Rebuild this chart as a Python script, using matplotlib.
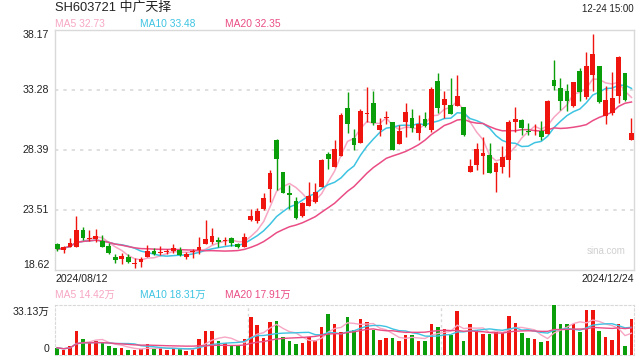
import matplotlib
matplotlib.use('Agg')
import matplotlib.pyplot as plt
import numpy as np
import pandas as pd

plt.rcParams['font.family'] = ['Liberation Sans', 'Noto Sans CJK SC', 'DejaVu Sans']

# daily k-line, 2024/08/12 - 2024/12/24
opens = [20.74, 20.27, 20.52, 20.52, 21.88, 21.12, 21.15, 21.01, 20.58, 19.70,
         19.54, 19.68, 19.13, 19.30, 19.65, 20.19, 20.03, 20.09, 20.14, 20.25,
         19.70, 20.06, 20.22, 20.76, 20.93, 21.06, 20.98, 21.23, 20.71, 20.52,
         22.69, 22.64, 23.56, 25.19, 29.21, 26.60, 24.87, 24.24, 23.04, 23.86,
         24.18, 25.41, 28.07, 27.04, 27.93, 31.82, 29.35, 28.99, 31.35, 32.25,
         30.02, 30.98, 30.70, 28.86, 30.70, 31.00, 29.80, 30.89, 30.02, 34.02,
         32.06, 32.06, 31.98, 31.87, 26.60, 27.17, 27.91, 27.96, 26.60, 27.04,
         27.58, 30.70, 30.84, 29.94, 29.92, 29.94, 29.72, 34.10, 33.42, 33.20,
         32.00, 34.85, 32.74, 34.50, 35.24, 31.19, 31.43, 32.82, 34.64, 29.21]
closes = [20.31, 20.49, 20.82, 21.88, 21.25, 21.23, 21.37, 20.52, 19.98, 19.44,
          19.78, 19.30, 19.21, 19.49, 20.17, 19.90, 20.11, 20.11, 20.39, 19.82,
          19.90, 20.17, 20.49, 21.15, 21.41, 20.88, 21.01, 20.84, 20.52, 21.33,
          23.04, 23.43, 24.51, 26.52, 27.64, 24.92, 24.75, 22.88, 24.10, 24.67,
          25.00, 27.58, 27.66, 28.48, 31.25, 30.51, 28.80, 31.57, 31.43, 30.57,
          30.43, 31.06, 28.39, 29.94, 31.49, 30.16, 30.51, 30.35, 33.36, 31.79,
          32.55, 31.33, 32.79, 29.62, 27.09, 28.48, 28.15, 26.55, 27.31, 27.80,
          30.70, 30.92, 30.16, 29.89, 29.97, 29.48, 32.39, 33.63, 32.41, 32.41,
          33.91, 33.10, 35.24, 36.21, 32.28, 32.47, 32.66, 35.99, 32.47, 29.80]
highs = [20.84, 20.58, 21.25, 23.02, 22.10, 21.88, 21.94, 21.47, 20.84, 19.90,
         19.98, 19.92, 19.57, 19.65, 20.66, 20.44, 20.58, 20.33, 20.74, 20.47,
         20.11, 20.33, 21.33, 22.69, 22.07, 21.28, 21.33, 21.33, 20.84, 21.61,
         23.59, 23.65, 24.92, 26.77, 29.29, 26.62, 25.54, 24.59, 24.18, 25.76,
         25.68, 27.66, 28.26, 29.21, 31.38, 33.12, 30.08, 31.71, 33.50, 33.20,
         30.98, 31.60, 30.70, 30.43, 32.25, 31.74, 31.25, 31.52, 33.50, 34.64,
         33.23, 34.24, 34.50, 31.92, 27.64, 28.94, 29.48, 28.94, 27.44, 28.72,
         30.84, 31.92, 30.90, 30.62, 30.51, 30.76, 32.47, 35.73, 34.24, 33.77,
         33.96, 35.05, 36.35, 37.82, 35.24, 33.61, 34.77, 36.05, 34.69, 31.03]
lows = [20.19, 20.03, 20.47, 20.52, 21.06, 20.98, 20.93, 20.47, 19.90, 19.21,
        19.13, 19.21, 18.76, 18.89, 19.65, 19.82, 19.84, 19.92, 20.03, 19.76,
        19.49, 19.62, 19.90, 20.71, 20.74, 20.52, 20.66, 20.58, 20.44, 20.52,
        22.61, 22.43, 23.51, 24.18, 25.14, 24.87, 23.56, 22.80, 22.96, 23.86,
        24.10, 25.41, 26.82, 27.04, 27.93, 29.80, 28.39, 28.99, 30.70, 30.43,
        29.54, 30.51, 28.39, 28.86, 29.48, 29.89, 29.21, 30.24, 29.89, 31.38,
        30.98, 31.33, 31.98, 29.54, 26.60, 26.77, 26.44, 26.50, 25.00, 26.55,
        26.22, 29.89, 29.62, 29.62, 29.62, 29.21, 29.72, 33.28, 31.65, 31.57,
        31.92, 32.39, 32.55, 33.20, 32.22, 30.51, 31.25, 32.20, 32.41, 29.21]
# volume in 万
volumes = [4.8, 3.5, 5.8, 15.9, 10.6, 7.8, 9.3, 7.8, 6.2, 4.6,
           4.6, 3.3, 3.3, 4.0, 7.1, 4.2, 4.4, 3.5, 4.4, 4.2,
           2.7, 3.8, 10.6, 15.9, 15.9, 9.3, 7.8, 6.4, 6.4, 10.6,
           25.4, 20.1, 11.5, 21.9, 22.5, 12.1, 9.3, 7.5, 8.2, 11.7,
           9.9, 18.6, 27.2, 20.5, 15.2, 25.2, 16.6, 23.9, 21.9, 16.6,
           9.9, 11.3, 11.3, 9.3, 13.3, 13.3, 9.3, 9.3, 20.5, 18.6,
           17.2, 13.3, 29.2, 9.3, 20.5, 16.6, 13.9, 13.9, 15.2, 14.6,
           25.8, 21.2, 14.6, 11.3, 10.6, 8.6, 9.3, 33.13, 20.5, 20.5,
           20.5, 15.2, 29.8, 29.8, 15.9, 11.9, 9.9, 20.5, 6.0, 23.9]

price_ticks = [18.62, 23.51, 28.39, 33.28, 38.17]
start_label = '2024/08/12'
end_label = '2024/12/24'

RED = '#f0140f'
GREEN = '#0a9e0a'
C_MA5 = '#f7a6c4'
C_MA10 = '#3ec4e2'
C_MA20 = '#ea4d85'
GRID = '#d9d9d9'

o = np.array(opens); c = np.array(closes)
h = np.array(highs); l = np.array(lows)
v = np.array(volumes)
x = np.arange(len(c))
up = c >= o
cols = np.where(up, RED, GREEN)

fig = plt.figure(figsize=(6.4, 3.6), dpi=100)
ax = fig.add_axes([55/640, 1 - 270/360, 579/640, 240/360])
axv = fig.add_axes([55/640, 5/360, 579/640, 50/360])

# price panel
s = pd.Series(c)
for n, col in [(5, C_MA5), (10, C_MA10), (20, C_MA20)]:
    ax.plot(x, s.rolling(n, min_periods=1).mean(), color=col, lw=1.1, zorder=2)

ax.vlines(x, l, h, colors=cols, lw=1, zorder=3)
body_h = np.maximum(np.abs(c - o), 0.06)
ax.bar(x, body_h, bottom=np.minimum(o, c), width=0.74, color=cols, zorder=4)

ax.set_xlim(-0.33, len(c) - 0.61)
ax.set_ylim(price_ticks[0], price_ticks[-1])
for t in price_ticks[1:-1]:
    ax.axhline(t, color=GRID, lw=1.2, ls=(0, (2, 3)), zorder=1)
ax.set_xticks([]); ax.set_yticks([])
for sp in ax.spines.values():
    sp.set_color(GRID)
    sp.set_linewidth(1)

tfs = 7.6
ax.text(-0.01, 1.0, f'{price_ticks[-1]:.2f}', transform=ax.transAxes, ha='right', va='top', fontsize=tfs, color='#222')
ax.text(-0.01, 0.0, f'{price_ticks[0]:.2f}', transform=ax.transAxes, ha='right', va='bottom', fontsize=tfs, color='#222')
for t in price_ticks[1:-1]:
    ax.text(-0.01, t, f'{t:.2f}', transform=ax.get_yaxis_transform(), ha='right', va='center', fontsize=tfs, color='#222')

ax.text(0, -0.015, start_label, transform=ax.transAxes, ha='left', va='top', fontsize=tfs, color='#222')
ax.text(1, -0.015, end_label, transform=ax.transAxes, ha='right', va='top', fontsize=tfs, color='#222')
ax.text(0.985, 0.06, 'sina.com', transform=ax.transAxes, ha='right', va='bottom', fontsize=7, color='#d0d0d0')

fig.text(55/640, 1 - 8/360, 'SH603721 中广天择', ha='left', va='center', fontsize=9.3, color='#222')
fig.text(634/640, 1 - 9/360, '12-24 15:00', ha='right', va='center', fontsize=7, color='#222')
fig.text(55/640, 1 - 24/360, 'MA5 32.73', ha='left', va='center', fontsize=7.4, color=C_MA5)
fig.text(140/640, 1 - 24/360, 'MA10 33.48', ha='left', va='center', fontsize=7.4, color=C_MA10)
fig.text(225/640, 1 - 24/360, 'MA20 32.35', ha='left', va='center', fontsize=7.4, color=C_MA20)

# volume panel
axv.bar(x, v, width=0.55, color=cols, zorder=3)
sv = pd.Series(v)
for n, col in [(5, C_MA5), (10, C_MA10), (20, C_MA20)]:
    axv.plot(x, sv.rolling(n, min_periods=1).mean(), color=col, lw=1.0, zorder=4)
axv.set_xlim(-0.33, len(c) - 0.61)
axv.set_ylim(0, 33.13)
axv.set_xticks([]); axv.set_yticks([])
for sp in axv.spines.values():
    sp.set_color(GRID)
    sp.set_linestyle((0, (2, 2)))
for frac in [1/3, 2/3]:
    axv.axvline(-0.33 + frac * (len(c) - 0.28), color=GRID, lw=1, ls=(0, (2, 2)), zorder=1)

axv.text(-0.01, 0.96, '33.13万', transform=axv.transAxes, ha='right', va='top', fontsize=tfs, color='#222')
axv.text(-0.01, 0.13, '0', transform=axv.transAxes, ha='right', va='center', fontsize=tfs, color='#222')
fig.text(55/640, 1 - 295/360, 'MA5 14.42万', ha='left', va='center', fontsize=7.4, color=C_MA5)
fig.text(140/640, 1 - 295/360, 'MA10 18.31万', ha='left', va='center', fontsize=7.4, color=C_MA10)
fig.text(225/640, 1 - 295/360, 'MA20 17.91万', ha='left', va='center', fontsize=7.4, color=C_MA20)

fig.savefig('out.png', dpi=100)
